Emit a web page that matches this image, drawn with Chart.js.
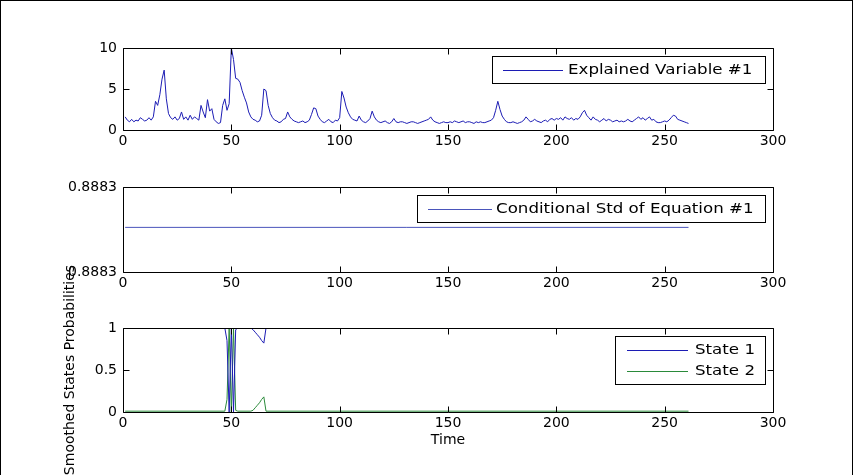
<!DOCTYPE html>
<html>
<head>
<meta charset="utf-8">
<script src="https://cdn.jsdelivr.net/npm/chart.js@4.4.1/dist/chart.umd.min.js"></script>
<style>
  html, body { margin: 0; padding: 0; background: #fff; }
  #fig { position: relative; width: 853px; height: 475px; overflow: hidden; background: #fff; }
  #fig canvas { position: absolute; left: 0; top: 0; }
  #frame { position: absolute; left: 0; top: 0; width: 851px; height: 480px; border: 1px solid #000; }
</style>
</head>
<body>
<div id="fig">
  <canvas id="explained" width="853" height="475"></canvas>
  <canvas id="condstd" width="853" height="475"></canvas>
  <canvas id="states" width="853" height="475"></canvas>
  <div id="frame"></div>
</div>
<script>
// time index of the first observation
const startTime = 1;

// Explained Variable #1, one value per period (t = 1..261)
const explainedVar = [
  1.6, 1.2, 1.0, 1.3, 1.0, 1.2, 1.1, 1.5, 1.3, 1.1,
  1.2, 1.5, 1.2, 1.6, 3.5, 3.0, 4.3, 6.2, 7.3, 3.8,
  2.0, 1.5, 1.3, 1.6, 1.2, 1.4, 2.2, 1.3, 1.6, 1.2,
  1.8, 1.3, 1.6, 1.4, 1.2, 3.0, 2.2, 1.5, 3.7, 2.3,
  2.6, 1.3, 1.0, 0.8, 0.9, 3.0, 3.8, 2.4, 3.2, 10.0,
  8.6, 6.3, 6.2, 5.8, 4.8, 4.0, 3.3, 2.2, 1.6, 1.3,
  1.2, 1.0, 1.1, 1.8, 5.0, 4.8, 3.0, 2.0, 1.5, 1.2,
  1.1, 0.9, 1.0, 1.3, 1.4, 2.2, 1.6, 1.3, 1.1, 1.0,
  0.9, 1.0, 1.1, 0.9, 1.0, 1.2, 1.9, 2.7, 2.6, 1.7,
  1.3, 1.0, 0.9, 1.1, 1.3, 1.0, 0.9, 1.2, 1.1, 1.5,
  4.7, 3.9, 2.8, 2.1, 1.6, 1.3, 1.2, 1.1, 1.7, 1.2,
  1.0, 0.9, 1.1, 1.4, 2.3, 1.6, 1.2, 1.0, 0.9, 1.0,
  1.1, 0.9, 0.8, 1.0, 1.4, 1.0, 0.9, 1.0, 1.0, 0.9,
  0.8, 0.9, 1.0, 1.0, 0.9, 0.8, 0.9, 1.0, 1.1, 1.2,
  1.3, 1.6, 1.2, 1.0, 0.9, 0.8, 0.9, 1.0, 0.9, 0.9,
  1.0, 0.9, 1.1, 1.0, 0.9, 1.0, 1.1, 0.9, 1.0, 1.0,
  0.9, 0.8, 1.0, 0.9, 1.0, 0.9, 0.9, 1.0, 1.1, 1.2,
  1.5, 2.4, 3.5, 2.5, 1.7, 1.3, 1.0, 0.9, 0.9, 1.0,
  0.9, 0.8, 0.9, 1.0, 1.2, 1.6, 1.3, 1.0, 1.1, 1.3,
  1.1, 1.0, 0.9, 1.1, 1.2, 1.0, 1.3, 1.4, 1.2, 1.4,
  1.3, 1.5, 1.2, 1.6, 1.4, 1.3, 1.5, 1.2, 1.4, 1.3,
  1.6, 2.1, 2.4, 1.8, 1.5, 1.2, 1.6, 1.3, 1.2, 1.0,
  1.2, 1.4, 1.1, 1.3, 1.2, 1.0, 1.1, 1.2, 1.0, 1.1,
  1.0, 1.1, 1.3, 1.1, 1.0, 1.2, 1.4, 1.6, 1.3, 1.5,
  1.2, 1.4, 1.6, 1.2, 1.3, 1.0, 0.9, 0.9, 1.0, 1.1,
  1.0, 1.2, 1.5, 1.8, 1.7, 1.3, 1.2, 1.1, 1.0, 0.9, 0.8
];

// Conditional std is flat over the sample: first and last period
const condStdTime = [1, 261];
const condStd = [0.888302, 0.888302];

// Smoothed state probabilities at the periods where they change
const stateTime = [1, 47, 48, 49, 50, 51, 52, 53, 59, 60, 61, 62, 63, 64, 65, 66, 261];
const state1 = [1, 1, 0.85, 0, 1, 0, 0.98, 1, 1, 0.98, 0.95, 0.92, 0.89, 0.85, 0.82, 1, 1];
const state2 = [0.01, 0.01, 0.15, 1, 0, 1, 0.02, 0.01, 0.01, 0.02, 0.05, 0.08, 0.11, 0.15, 0.18, 0.01, 0.01];

const xTicks = [0, 50, 100, 150, 200, 250, 300];

Chart.defaults.font = { family: "'DejaVu Sans', sans-serif", size: 14 };
Chart.defaults.color = '#000';
Chart.defaults.animation = false;

const pts = (xs, ys) => ys.map((v, i) => ({ x: xs[i], y: v }));
const plainNum = v => String(+v.toFixed(4));

// MATLAB style box with inward ticks on all four sides, plus boxed legend
const matAxes = {
  id: 'matAxes',
  afterDatasetsDraw(chart, args, opts) {
    const { ctx, chartArea: a, scales: { x, y } } = chart;
    const L = Math.round(a.left) + 0.5, R = Math.round(a.right) + 0.5;
    const T = Math.round(a.top) + 0.5, B = Math.round(a.bottom) + 0.5;
    const tk = 6;
    ctx.save();
    ctx.strokeStyle = '#000';
    ctx.lineWidth = 1;
    ctx.beginPath();
    ctx.rect(L, T, R - L, B - T);
    x.ticks.forEach(t => {
      const px = Math.round(x.getPixelForValue(t.value)) + 0.5;
      ctx.moveTo(px, B); ctx.lineTo(px, B - tk);
      ctx.moveTo(px, T); ctx.lineTo(px, T + tk);
    });
    y.ticks.forEach(t => {
      const py = Math.round(y.getPixelForValue(t.value)) + 0.5;
      ctx.moveTo(L, py); ctx.lineTo(L + tk, py);
      ctx.moveTo(R, py); ctx.lineTo(R - tk, py);
    });
    ctx.stroke();

    const lg = opts.legend;
    if (lg) {
      const sets = chart.data.datasets;
      const h = 6 + 21 * sets.length;
      ctx.fillStyle = '#fff';
      ctx.fillRect(lg.left, lg.top, lg.width, h);
      ctx.strokeRect(lg.left + 0.5, lg.top + 0.5, lg.width, h);
      ctx.font = "14px 'DejaVu Sans', sans-serif";
      ctx.textBaseline = 'middle';
      sets.forEach((ds, i) => {
        const cy = Math.round(lg.top + 3 + 21 * (i + 0.5)) + 0.5;
        ctx.strokeStyle = ds.borderColor;
        ctx.beginPath();
        ctx.moveTo(lg.lineX0, cy); ctx.lineTo(lg.lineX1, cy);
        ctx.stroke();
        // legend text in the original is drawn noticeably wider
        ctx.save();
        ctx.translate(lg.textX, cy);
        ctx.scale(1.19, 1);
        ctx.fillStyle = '#000';
        ctx.fillText(ds.label, 0, 0);
        ctx.restore();
      });
    }
    ctx.restore();
  }
};

function makePanel(id, area, datasets, yOpts, legend, xTitle) {
  const xHeight = xTitle ? 40 : 25;
  return new Chart(document.getElementById(id), {
    type: 'line',
    data: { datasets },
    options: {
      responsive: false,
      layout: {
        padding: { left: 0, top: area.top, right: 853 - area.right, bottom: 475 - area.bottom - xHeight }
      },
      elements: { point: { radius: 0 }, line: { borderWidth: 1, tension: 0 } },
      plugins: { legend: { display: false }, tooltip: { enabled: false }, matAxes: { legend } },
      scales: {
        x: {
          type: 'linear', min: 0, max: 300,
          afterBuildTicks: s => { s.ticks = xTicks.map(v => ({ value: v })); },
          ticks: { padding: 3, maxRotation: 0 },
          grid: { display: false, drawTicks: false }, border: { display: false },
          title: xTitle ? { display: true, text: xTitle, padding: { top: 0, bottom: 3.6 } } : { display: false },
          afterFit: s => { s.height = xHeight; }
        },
        y: Object.assign({
          grid: { display: false, drawTicks: false }, border: { display: false },
          afterFit: s => { s.width = area.left; }
        }, yOpts)
      }
    },
    plugins: [matAxes]
  });
}

makePanel('explained', { left: 123, right: 773, top: 48, bottom: 130 },
  [{ label: 'Explained Variable #1', data: pts(explainedVar.map((_, i) => startTime + i), explainedVar), borderColor: '#1c1cb4' }],
  { min: 0, max: 10, ticks: { stepSize: 5, padding: 6, callback: plainNum } },
  { left: 492, top: 56, width: 273, lineX0: 503, lineX1: 563, textX: 568 });

makePanel('condstd', { left: 123, right: 773, top: 187, bottom: 272 },
  [{ label: 'Conditional Std of Equation #1', data: pts(condStdTime, condStd), borderColor: '#4a55bb' }],
  {
    min: 0.88826, max: 0.88834,
    afterBuildTicks: s => { s.ticks = [{ value: s.min }, { value: s.max }]; },
    ticks: { padding: 6, callback: v => v.toFixed(4) }
  },
  { left: 417, top: 195, width: 348, lineX0: 428, lineX1: 492, textX: 496 });

makePanel('states', { left: 123, right: 773, top: 328, bottom: 412 },
  [
    { label: 'State 1', data: pts(stateTime, state1), borderColor: '#1c1cb4' },
    { label: 'State 2', data: pts(stateTime, state2), borderColor: '#2a8a3a' }
  ],
  {
    min: 0, max: 1,
    ticks: { stepSize: 0.5, padding: 6, callback: plainNum },
    title: { display: true, text: 'Smoothed States Probabilities', padding: { top: 61.6, bottom: 0 } }
  },
  { left: 615, top: 336, width: 150, lineX0: 627, lineX1: 688, textX: 695 },
  'Time');
</script>
</body>
</html>
